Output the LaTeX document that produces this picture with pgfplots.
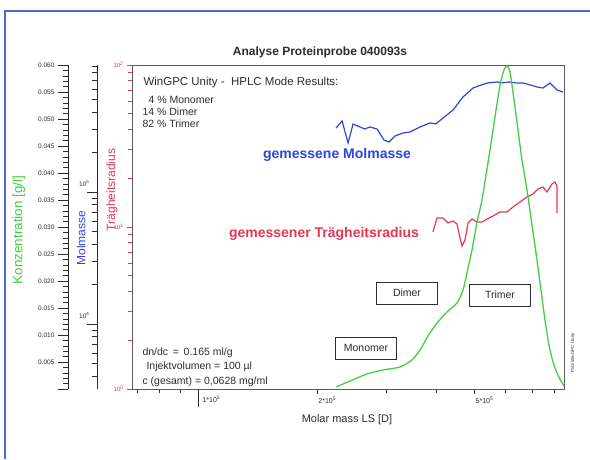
\documentclass[border=0pt]{standalone}
\usepackage{fontspec}
\setmainfont{Liberation Sans}
\usepackage{pgfplots}
\pgfplotsset{compat=1.18}
\definecolor{cgreen}{RGB}{70,205,70}
\definecolor{cblue}{RGB}{45,70,220}
\definecolor{cred}{RGB}{232,55,85}
\definecolor{frameblue}{RGB}{75,110,190}
\definecolor{boxgray}{RGB}{90,90,90}
\definecolor{txt}{RGB}{45,45,45}
\newcommand\fs[1]{\fontsize{#1}{#1}\selectfont}
\begin{document}
\begin{tikzpicture}[x=1pt,y=1pt]
\useasboundingbox (0,0) rectangle (590,459);
\fill[white] (0,0) rectangle (590,459);
\draw[frameblue, line width=2pt] (5,0) -- (5,448) -- (590,448);

% ---- Konzentration scale ----
\begin{axis}[
  scale only axis, width=10pt, height=324pt,
  at={(68pt,70pt)}, anchor=south west,
  axis y line*=left, axis x line=none,
  xmin=0, xmax=1, ymin=0, ymax=0.06,
  scaled y ticks=false,
  ytick={0,0.005,0.01,0.015,0.02,0.025,0.03,0.035,0.04,0.045,0.05,0.055,0.06},
  yticklabels={,0.005,0.010,0.015,0.020,0.025,0.030,0.035,0.040,0.045,0.050,0.055,0.060},
  minor y tick num=4,
  axis line style={txt, line width=0.8pt},
  tick style={txt, line width=0.6pt},
  major tick length=10pt, minor tick length=5pt,
  tick align=outside,
  yticklabel style={font=\fs{6.5}, text=txt},
]
\end{axis}

% ---- Molmasse scale ----
\begin{axis}[
  scale only axis, width=10pt, height=324pt,
  at={(97pt,70pt)}, anchor=south west,
  axis y line*=left, axis x line=none,
  xmin=0, xmax=1, ymode=log, ymin=3218, ymax=916500,
  ytick={1e4,1e5},
  yticklabels={10\textsuperscript{4},10\textsuperscript{5}},
  minor ytick={4000,5000,6000,7000,8000,9000,20000,30000,40000,50000,60000,70000,80000,90000,200000,300000,400000,500000,600000,700000,800000,900000},
  axis line style={txt, line width=0.8pt},
  tick style={txt, line width=0.6pt},
  major tick length=10pt, minor tick length=5pt,
  tick align=outside,
  yticklabel style={font=\fs{6.5}, text=txt, anchor=south east, xshift=6pt, yshift=2pt},
]
\end{axis}

% ---- main axis (Traegheitsradius) ----
\begin{axis}[
  scale only axis, width=432pt, height=324pt,
  at={(132pt,70pt)}, anchor=south west,
  xmode=log, ymode=log,
  xmin=68060, xmax=844600, ymin=1, ymax=100,
  axis line style={boxgray, line width=1pt},
  tick align=outside,
  xtick pos=left, ytick pos=left,
  xtick={2e5,5e5},
  xticklabels={2*10\textsuperscript{5},5*10\textsuperscript{5}},
  minor xtick={70000,80000,90000,300000,400000,600000,700000,800000},
  extra x ticks={1e5},
  extra x tick labels={1*10\textsuperscript{5}},
  extra x tick style={major tick length=18pt, xticklabel style={anchor=north west, xshift=3pt, yshift=14pt}},
  x tick style={txt, line width=0.6pt},
  major tick length=5pt, minor tick length=4pt,
  xticklabel style={font=\fs{7}, text=txt, anchor=north west, xshift=-2pt},
  ytick={1,10,100},
  yticklabels={10\textsuperscript{0},10\textsuperscript{1},10\textsuperscript{2}},
  minor ytick={2,3,4,5,6,7,8,9,20,30,40,50,60,70,80,90},
  y tick style={cred, line width=0.6pt},
  yticklabel style={font=\fs{6}, text=cred},
]
\addplot[cred, line width=1.2pt] coordinates {
(393500,9.314) (402800,11.36) (417200,11.36) (429500,10.59) (442200,10.89)
(452600,10.44) (460600,8.554) (466000,7.632) (474200,8.314) (482600,10.59)
(494000,11.20) (508600,10.74) (523600,10.74) (539100,11.20) (558300,11.69)
(581500,12.38) (605700,12.38) (627300,13.29) (653400,14.27) (680700,15.32)
(704900,15.99) (725700,17.16) (747200,17.66) (764800,16.44) (787500,18.43)
(801400,18.96) (810800,17.91) (810800,12.20)
};
\end{axis}

% ---- Molmasse curve ----
\begin{axis}[
  scale only axis, width=432pt, height=324pt,
  at={(132pt,70pt)}, anchor=south west,
  xmode=log, ymode=log,
  xmin=68060, xmax=844600, ymin=3218, ymax=916500,
  hide axis,
]
\addplot[cblue, line width=1.2pt] coordinates {
(223600,305300) (231600,345100) (239800,235000) (246900,327500) (257200,310700)
(264000,300000) (272500,310700) (283900,300100) (295700,247700) (304500,239200) (315300,265600)
(330400,279900) (344100,284800) (364700,310700) (386600,333200) (400000,328000) (417200,363600)
(442200,418100) (468700,524500) (496900,613600) (539100,669600) (571400,681300)
(590000,672000) (616400,681300) (640000,668000) (665000,669600) (690000,650000) (721500,624500) (747200,613600) (778300,669600)
(810800,592500) (839600,572200)
};
\end{axis}

% ---- Konzentration curve ----
\begin{axis}[
  scale only axis, width=432pt, height=324pt,
  at={(132pt,70pt)}, anchor=south west,
  xmode=log,
  xmin=68060, xmax=844600, ymin=0, ymax=0.06,
  hide axis,
]
\addplot[cgreen, line width=1.3pt, smooth, tension=0.4] coordinates {
(223600,0.00037) (242600,0.00148) (267800,0.00278) (294000,0.00352) (324600,0.00407)
(348100,0.00537) (364700,0.00722) (382100,0.00981) (402800,0.01222) (427000,0.01426)
(452600,0.01593) (468700,0.01833) (482600,0.02241) (494000,0.02574) (508600,0.03093)
(523600,0.03500) (535900,0.03963) (548600,0.04426) (564800,0.05037) (581500,0.05630)
(595200,0.05907) (605700,0.05981) (616400,0.05870) (630960,0.05352) (645870,0.04796)
(661090,0.04241) (680700,0.03685) (700800,0.03037) (721500,0.02389) (738520,0.01833)
(755960,0.01278) (773820,0.00815) (792060,0.00500) (810800,0.00296) (829900,0.00148)
(844540,0.00056)
};
\end{axis}

% ---- texts ----
\node[font=\bfseries\fs{12}, text=txt] at (320,407) {Analyse Proteinprobe 040093s};
\node[font=\fs{11.5}, text=txt, anchor=west] at (140,376) {WinGPC Unity -\ \ HPLC Mode Results:};
\node[font=\fs{10.5}, text=txt, anchor=west] at (145,359) {4 \% Monomer};
\node[font=\fs{10.5}, text=txt, anchor=west] at (139,347) {14 \% Dimer};
\node[font=\fs{10.5}, text=txt, anchor=west] at (139,335) {82 \% Trimer};
\node[font=\bfseries\fs{14}, text=cblue] at (337,304) {gemessene Molmasse};
\node[font=\bfseries\fs{14}, text=cred] at (324,225) {gemessener Trägheitsradius};
\node[draw=txt, line width=0.8pt, fill=white, minimum width=61pt, minimum height=22pt, inner sep=0pt, font=\fs{10.5}, text=txt] at (407,166) {Dimer};
\node[draw=txt, line width=0.8pt, fill=white, minimum width=61pt, minimum height=22pt, inner sep=0pt, font=\fs{10.5}, text=txt] at (500,164) {Trimer};
\node[draw=txt, line width=0.8pt, fill=white, minimum width=61pt, minimum height=22pt, inner sep=0pt, font=\fs{10.5}, text=txt] at (366,111) {Monomer};
\node[font=\fs{10.5}, text=txt, anchor=west] at (139,106) {dn/dc\ \,=\ \,0.165 ml/g};
\node[font=\fs{10.5}, text=txt, anchor=west] at (143,92) {Injektvolumen = 100 µl};
\node[font=\fs{10.5}, text=txt, anchor=west] at (139,77) {c (gesamt) = 0,0628 mg/ml};
\node[font=\fs{11}, text=txt] at (347,39) {Molar mass LS [D]};
\node[font=\fs{13.5}, text=cgreen, rotate=90] at (19,229) {Konzentration [g/l]};
\node[font=\fs{12}, text=cblue, rotate=90] at (81,221) {Molmasse};
\node[font=\fs{12}, text=cred, rotate=90] at (112,269) {Trägheitsradius};
\node[font=\fs{4.5}, text=txt, rotate=90] at (573,106) {PSS WinGPC Unity};
\end{tikzpicture}
\end{document}
